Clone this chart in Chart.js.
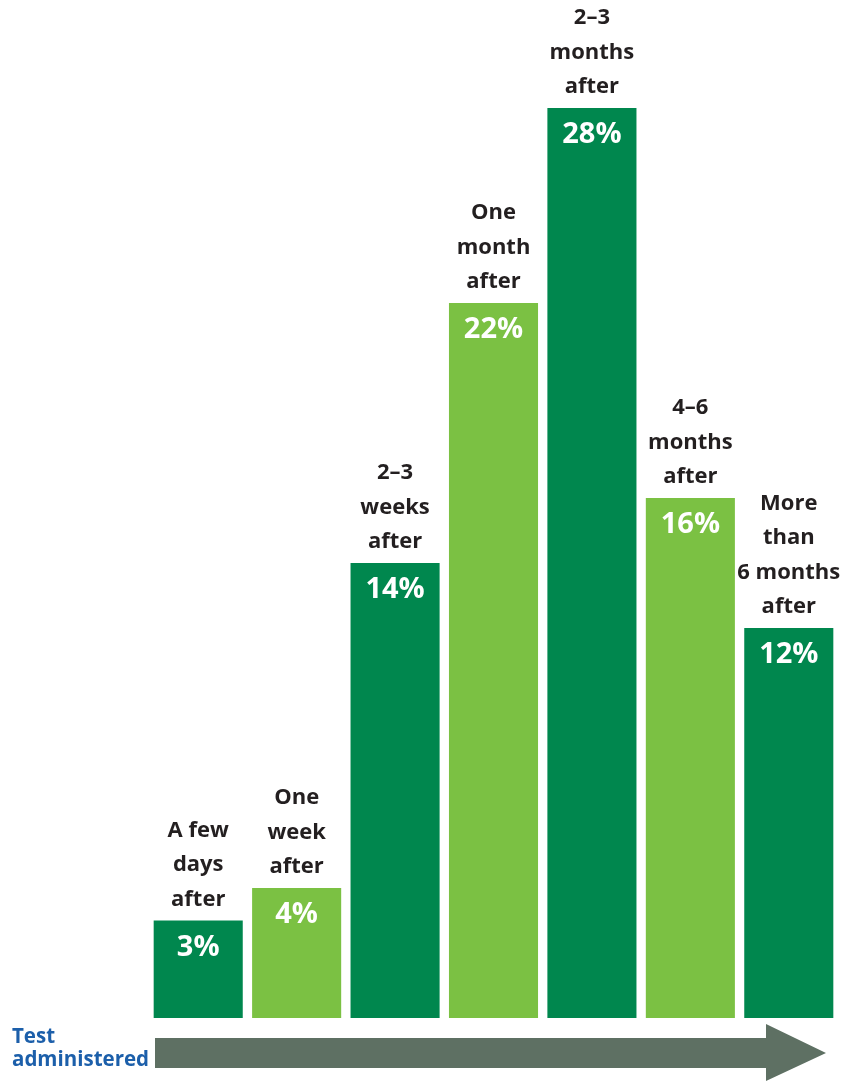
<!DOCTYPE html>
<html>
<head>
<meta charset="utf-8">
<script src="https://cdn.jsdelivr.net/npm/chart.js@4/dist/chart.umd.min.js"></script>
<style>
  body { margin: 0; background: #fff; }
  canvas { display: block; }
</style>
</head>
<body>
<canvas id="testTiming" width="847" height="1082"></canvas>
<script>
// When the test was taken, relative to administration
const timeLabels = [
    ['A few', 'days', 'after'],
    ['One', 'week', 'after'],
    ['2–3', 'weeks', 'after'],
    ['One', 'month', 'after'],
    ['2–3', 'months', 'after'],
    ['4–6', 'months', 'after'],
    ['More', 'than', '6 months', 'after']
];
const timeValues = [3, 4, 14, 22, 28, 16, 12];
const barColors = ['#00874E', '#7BC143', '#00874E', '#7BC143', '#00874E', '#7BC143', '#00874E'];

const labelFont = '"Open Sans", "Noto Sans", sans-serif';

// category text above each bar + percent inside
const barText = {
    id: 'barText',
    afterDatasetsDraw(chart) {
        const ctx = chart.ctx;
        const meta = chart.getDatasetMeta(0);
        ctx.save();
        ctx.textAlign = 'center';
        ctx.textBaseline = 'middle';
        meta.data.forEach((bar, i) => {
            ctx.fillStyle = '#231F20';
            ctx.font = 'bold 22px ' + labelFont;
            const lines = timeLabels[i];
            lines.forEach((line, j) => {
                const y = bar.y - 21 - (lines.length - 1 - j) * 34.5;
                ctx.fillText(line, bar.x, y);
            });
            ctx.fillStyle = '#fff';
            ctx.font = 'bold 29px ' + labelFont;
            ctx.fillText(timeValues[i] + '%', bar.x, bar.y + 27);
        });
        ctx.restore();
    }
};

// arrow along the bottom with its caption
const timeArrow = {
    id: 'timeArrow',
    afterDraw(chart) {
        const ctx = chart.ctx;
        const left = chart.chartArea.left + 6;
        ctx.save();
        ctx.fillStyle = '#5E7063';
        ctx.beginPath();
        ctx.moveTo(left, 1038);
        ctx.lineTo(766, 1038);
        ctx.lineTo(766, 1024);
        ctx.lineTo(826, 1053);
        ctx.lineTo(766, 1081);
        ctx.lineTo(766, 1068);
        ctx.lineTo(left, 1068);
        ctx.closePath();
        ctx.fill();
        ctx.fillStyle = '#1C5FAA';
        ctx.font = 'bold 20.5px ' + labelFont;
        ctx.textAlign = 'left';
        ctx.textBaseline = 'middle';
        ctx.fillText('Test', 12, 1037);
        ctx.fillText('administered', 12, 1060);
        ctx.restore();
    }
};

const timingConfig = {
    type: 'bar',
    data: {
        labels: timeLabels,
        datasets: [{
            data: timeValues,
            backgroundColor: barColors,
            categoryPercentage: 1,
            barPercentage: 0.905
        }]
    },
    options: {
        responsive: false,
        animation: false,
        layout: { padding: { top: 43, bottom: 64, left: 149, right: 9 } },
        plugins: { legend: { display: false }, tooltip: { enabled: false } },
        scales: {
            x: { display: false },
            y: { display: false, min: 0, max: 30 }
        }
    },
    plugins: [barText, timeArrow]
};

const testTiming = new Chart(
    document.getElementById('testTiming'),
    timingConfig
);
</script>
</body>
</html>
